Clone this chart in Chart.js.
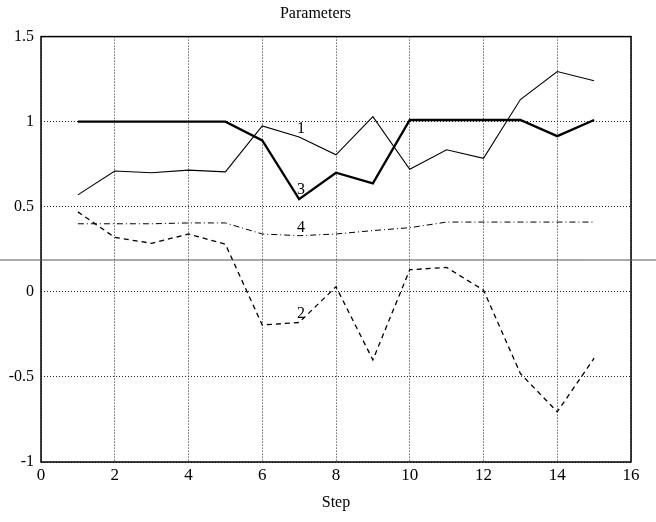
<!DOCTYPE html>
<html>
<head>
<meta charset="utf-8">
<script src="https://cdn.jsdelivr.net/npm/chart.js@4.4.0/dist/chart.umd.min.js"></script>
<style>
  body { margin: 0; background: #fff; }
  canvas { display: block; }
</style>
</head>
<body>
<canvas id="paramChart" width="656" height="522"></canvas>
<script>
// step numbers
var steps = [1, 2, 3, 4, 5, 6, 7, 8, 9, 10, 11, 12, 13, 14, 15];

// curve values
var param1 = [0.57, 0.71, 0.70, 0.715, 0.705, 0.975, 0.91, 0.805, 1.03, 0.72, 0.835, 0.785, 1.13, 1.295, 1.24];
var param2 = [0.47, 0.32, 0.285, 0.34, 0.28, -0.195, -0.18, 0.03, -0.40, 0.13, 0.143, 0.01, -0.48, -0.705, -0.39];
var param3 = [1.0, 1.0, 1.0, 1.0, 1.0, 0.89, 0.545, 0.70, 0.637, 1.01, 1.01, 1.01, 1.01, 0.915, 1.01];
var param4 = [0.40, 0.40, 0.40, 0.405, 0.405, 0.34, 0.33, 0.34, 0.36, 0.377, 0.41, 0.41, 0.41, 0.41, 0.41];

// curve numbers written on the plot
var curveLabels = ['1', '2', '3', '4'];
var curveLabelX = [7.05, 7.05, 7.05, 7.05];
var curveLabelY = [0.96, -0.13, 0.60, 0.375];

// stray scan line across the page
var scanLineLevel = 0.187;

var xTicks = [0, 2, 4, 6, 8, 10, 12, 14, 16];
var yTicks = [-1, -0.5, 0, 0.5, 1, 1.5];
var yTickText = ['-1', '-0.5', '0', '0.5', '1', '1.5'];

function toPoints(values) {
    return steps.map(function(s, i) { return {x: s, y: values[i]}; });
}

var serif = "'Liberation Serif', 'DejaVu Serif', serif";

var matlabExtras = {
    id: 'matlabExtras',
    afterDraw: function(chart) {
        var ctx = chart.ctx;
        var area = chart.chartArea;
        var xs = chart.scales.x;
        var ys = chart.scales.y;
        ctx.save();
        // frame
        ctx.strokeStyle = '#000';
        ctx.lineWidth = 1.5;
        ctx.setLineDash([]);
        ctx.strokeRect(area.left, area.top, area.right - area.left, area.bottom - area.top);
        // scan line
        var sy = ys.getPixelForValue(scanLineLevel);
        ctx.strokeStyle = '#555';
        ctx.lineWidth = 1;
        ctx.beginPath();
        ctx.moveTo(0, sy);
        ctx.lineTo(chart.width, sy);
        ctx.stroke();
        // curve numbers
        ctx.fillStyle = '#000';
        ctx.font = '16px ' + serif;
        ctx.textAlign = 'center';
        ctx.textBaseline = 'middle';
        curveLabels.forEach(function(t, i) {
            ctx.fillText(t, xs.getPixelForValue(curveLabelX[i]), ys.getPixelForValue(curveLabelY[i]));
        });
        ctx.restore();
    }
};

var ctx = document.getElementById('paramChart').getContext('2d');
var chart = new Chart(ctx, {
    type: 'line',
    data: {
        datasets: [
            { label: '1', data: toPoints(param1), borderColor: '#000', borderWidth: 1.1 },
            { label: '2', data: toPoints(param2), borderColor: '#000', borderWidth: 1.3, borderDash: [5, 4] },
            { label: '3', data: toPoints(param3), borderColor: '#000', borderWidth: 2.3 },
            { label: '4', data: toPoints(param4), borderColor: '#000', borderWidth: 1, borderDash: [6, 3, 1, 3] }
        ]
    },
    options: {
        responsive: false,
        animation: false,
        layout: { padding: { left: 0, right: 25, top: 0, bottom: 0 } },
        elements: {
            point: { radius: 0 },
            line: { tension: 0, fill: false }
        },
        plugins: {
            legend: { display: false },
            tooltip: { enabled: false },
            title: {
                display: true,
                text: 'Parameters',
                color: '#000',
                font: { family: serif, size: 16, weight: 'normal' },
                padding: { top: 4, bottom: 13.4 }
            }
        },
        scales: {
            x: {
                type: 'linear',
                min: 0,
                max: 16,
                afterBuildTicks: function(scale) {
                    scale.ticks = xTicks.map(function(v) { return {value: v}; });
                },
                afterFit: function(scale) { scale.height = 60; },
                grid: { color: '#222', lineWidth: 1, drawTicks: false },
                border: { display: false, dash: [1, 2] },
                ticks: {
                    color: '#000',
                    padding: 3,
                    font: { family: serif, size: 17 },
                    maxRotation: 0
                },
                title: {
                    display: true,
                    text: 'Step',
                    color: '#000',
                    font: { family: serif, size: 16 },
                    padding: { top: 4, bottom: 9.5 }
                }
            },
            y: {
                min: -1,
                max: 1.5,
                afterBuildTicks: function(scale) {
                    scale.ticks = yTicks.map(function(v) { return {value: v}; });
                },
                afterFit: function(scale) { scale.width = 41; },
                grid: { color: '#222', lineWidth: 1, drawTicks: false },
                border: { display: false, dash: [1, 2] },
                ticks: {
                    color: '#000',
                    padding: 7,
                    font: { family: serif, size: 16 },
                    callback: function(value) {
                        var i = yTicks.indexOf(value);
                        return i >= 0 ? yTickText[i] : '';
                    }
                }
            }
        }
    },
    plugins: [matlabExtras]
});
</script>
</body>
</html>
